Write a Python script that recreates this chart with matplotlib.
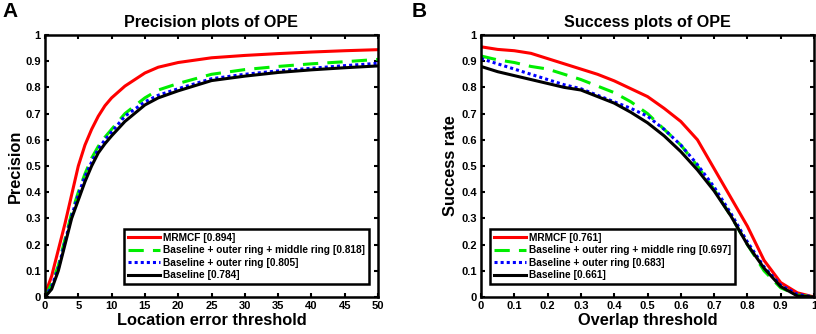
import matplotlib
matplotlib.use("Agg")
import matplotlib.pyplot as plt
import numpy as np

plt.rcParams['font.family'] = ['Liberation Sans', 'DejaVu Sans']
plt.rcParams['font.weight'] = 'bold'

# Precision plot data (location error threshold)
prec_x = [0, 1, 2, 3, 4, 5, 6, 7, 8, 9, 10, 12, 15, 17, 20, 25, 30, 35, 40, 45, 50]
prec_mrmcf = [0.01, 0.08, 0.18, 0.28, 0.39, 0.50, 0.58, 0.64, 0.69, 0.73, 0.76, 0.805, 0.855, 0.877, 0.895, 0.913, 0.922, 0.929, 0.935, 0.94, 0.944]
prec_outer_middle = [0.0, 0.05, 0.12, 0.22, 0.32, 0.40, 0.47, 0.53, 0.575, 0.61, 0.64, 0.70, 0.76, 0.79, 0.815, 0.85, 0.868, 0.88, 0.89, 0.898, 0.907]
prec_outer = [0.0, 0.04, 0.11, 0.21, 0.31, 0.39, 0.46, 0.515, 0.565, 0.60, 0.63, 0.69, 0.745, 0.77, 0.795, 0.833, 0.85, 0.863, 0.873, 0.883, 0.892]
prec_base = [0.0, 0.03, 0.10, 0.20, 0.30, 0.37, 0.44, 0.50, 0.55, 0.585, 0.615, 0.67, 0.733, 0.76, 0.787, 0.826, 0.843, 0.857, 0.867, 0.875, 0.882]

# Success plot data (overlap threshold)
succ_x = [0, 0.05, 0.1, 0.15, 0.2, 0.25, 0.3, 0.35, 0.4, 0.45, 0.5, 0.55, 0.6, 0.65, 0.7, 0.75, 0.8, 0.85, 0.9, 0.95, 1.0]
succ_mrmcf = [0.955, 0.945, 0.94, 0.93, 0.91, 0.89, 0.87, 0.85, 0.825, 0.795, 0.765, 0.72, 0.67, 0.60, 0.49, 0.38, 0.27, 0.14, 0.055, 0.016, 0.0]
succ_outer_middle = [0.92, 0.905, 0.895, 0.88, 0.87, 0.85, 0.83, 0.805, 0.78, 0.745, 0.70, 0.64, 0.58, 0.50, 0.41, 0.31, 0.20, 0.10, 0.035, 0.008, 0.0]
succ_outer = [0.91, 0.89, 0.87, 0.85, 0.83, 0.81, 0.795, 0.77, 0.745, 0.72, 0.69, 0.64, 0.58, 0.505, 0.42, 0.32, 0.21, 0.115, 0.045, 0.01, 0.0]
succ_base = [0.88, 0.86, 0.845, 0.83, 0.815, 0.80, 0.79, 0.765, 0.74, 0.705, 0.665, 0.615, 0.555, 0.485, 0.405, 0.31, 0.20, 0.11, 0.04, 0.004, 0.0]

prec_labels = ['MRMCF [0.894]', 'Baseline + outer ring + middle ring [0.818]',
               'Baseline + outer ring [0.805]', 'Baseline [0.784]']
succ_labels = ['MRMCF [0.761]', 'Baseline + outer ring + middle ring [0.697]',
               'Baseline + outer ring [0.683]', 'Baseline [0.661]']

styles = [dict(color='#ff0000', linestyle='-'),
          dict(color='#00ee00', linestyle=(0, (5, 3))),
          dict(color='#0000ff', linestyle=(0, (1, 1))),
          dict(color='#000000', linestyle='-')]

fig = plt.figure(figsize=(8.16, 3.34), dpi=100)
ax1 = fig.add_axes([45/816, 1-297/334, (378-45)/816, (297-35)/334])
ax2 = fig.add_axes([481/816, 1-297/334, (814-481)/816, (297-35)/334])

def setup(ax, xs, series, labels, title, xlabel, ylabel, xticks, xticklabels, leg_right):
    for ys, lab, st in zip(series, labels, styles):
        ax.plot(xs, ys, lw=2.2, label=lab, **st)
    ax.set_xlim(xs[0], xs[-1])
    ax.set_ylim(0, 1)
    ax.set_xticks(xticks)
    ax.set_xticklabels(xticklabels)
    yt = np.round(np.arange(0, 1.01, 0.1), 1)
    ax.set_yticks(yt)
    ax.set_yticklabels(['0'] + ['%.1f' % v for v in yt[1:-1]] + ['1'])
    ax.tick_params(direction='in', top=True, right=True, labelsize=8, width=1.5, length=3, pad=3)
    for s in ax.spines.values():
        s.set_linewidth(1.8)
    ax.set_title(title, fontsize=11.6, fontweight='bold', pad=6)
    ax.set_xlabel(xlabel, fontsize=11.8, fontweight='bold', labelpad=1)
    ax.set_ylabel(ylabel, fontsize=11.8, fontweight='bold', labelpad=2)
    leg = ax.legend(loc='lower right', bbox_to_anchor=(leg_right, 0.05), fontsize=7.3,
                    frameon=True, fancybox=False, framealpha=1,
                    edgecolor='black', handlelength=3.2, handletextpad=0.3,
                    borderpad=0.35, labelspacing=0.25, borderaxespad=0.0)
    leg.get_frame().set_linewidth(1.8)
    return leg

setup(ax1, prec_x, [prec_mrmcf, prec_outer_middle, prec_outer, prec_base], prec_labels,
      'Precision plots of OPE', 'Location error threshold', 'Precision',
      list(range(0, 51, 5)), [str(v) for v in range(0, 51, 5)], 0.973)
setup(ax2, succ_x, [succ_mrmcf, succ_outer_middle, succ_outer, succ_base], succ_labels,
      'Success plots of OPE', 'Overlap threshold', 'Success rate',
      np.round(np.arange(0, 1.01, 0.1), 1), ['0'] + ['%.1f' % v for v in np.arange(0.1, 0.95, 0.1)] + ['1'], 0.763)

fig.text(2/816, 1-2/334, 'A', fontsize=15, fontweight='bold', va='top', ha='left')
fig.text(412/816, 1-2/334, 'B', fontsize=15, fontweight='bold', va='top', ha='left')

fig.savefig('out.png', dpi=100)
